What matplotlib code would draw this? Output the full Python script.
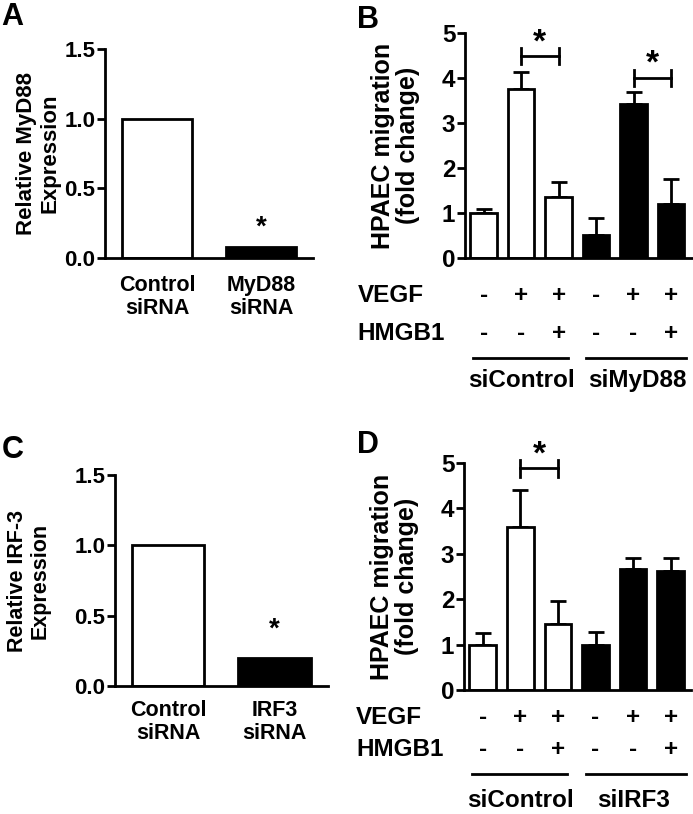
import matplotlib
matplotlib.use("Agg")
import matplotlib.pyplot as plt
import matplotlib.transforms as mtransforms
import numpy as np

plt.rcParams["font.family"] = ["Liberation Sans", "DejaVu Sans"]
plt.rcParams["font.weight"] = "bold"

# Panel A / C: knockdown efficiency
kd_groups = ["Control\nsiRNA", "MyD88\nsiRNA"]
kd_myd88 = [1.0, 0.08]
kd_groups_c = ["Control\nsiRNA", "IRF3\nsiRNA"]
kd_irf3 = [1.0, 0.2]

# Panel B / D: migration (fold change), mean and upper SEM
mig_b = [1.0, 3.75, 1.35, 0.52, 3.43, 1.2]
err_b = [0.1, 0.38, 0.35, 0.37, 0.25, 0.55]
mig_d = [1.0, 3.58, 1.45, 1.0, 2.66, 2.63]
err_d = [0.26, 0.83, 0.51, 0.27, 0.24, 0.27]
bar_fill = ["white", "white", "white", "black", "black", "black"]
vegf_row = ["-", "+", "+", "-", "+", "+"]
hmgb1_row = ["-", "-", "+", "-", "-", "+"]
groups_b = ["siControl", "siMyD88"]
groups_d = ["siControl", "siIRF3"]

# significance brackets: (left bar, right bar, height)
sig_b = [(1, 2, 4.48), (4, 5, 4.0)]
sig_d = [(1, 2, 4.88)]

LW = 2.0
ROW_FS = 17.5

fig = plt.figure(figsize=(6.93, 8.14), dpi=100)


def style_axes(ax, tick_fs):
    for side in ("top", "right"):
        ax.spines[side].set_visible(False)
    for side in ("left", "bottom"):
        ax.spines[side].set_linewidth(LW)
    ax.tick_params(axis="y", direction="out", length=6, width=LW, labelsize=tick_fs, pad=1)
    for lab in ax.get_yticklabels():
        lab.set_fontweight("bold")


def kd_panel(rect, names, values, ylabel, ylabel_fs, label_x, star_y, letter, letter_xy, pad):
    ax = fig.add_axes(rect)
    x = np.arange(len(values))
    ax.bar(x, values, width=0.68, color=["white", "black"], edgecolor="black", linewidth=LW)
    ax.set_xlim(-0.5, 1.5)
    ax.set_ylim(0, 1.5)
    ax.set_yticks([0, 0.5, 1.0, 1.5])
    ax.set_yticklabels(["0.0", "0.5", "1.0", "1.5"])
    ax.set_xticks(x)
    ax.set_xticklabels(names, fontsize=15.5, fontweight="bold", linespacing=1.15)
    ax.tick_params(axis="x", length=0, pad=pad)
    style_axes(ax, 16)
    ax.set_ylabel(ylabel, fontsize=ylabel_fs, fontweight="bold", linespacing=1.1)
    ax.yaxis.set_label_coords(label_x, 0.5)
    ax.text(1, star_y, "*", ha="center", va="center", fontsize=20, fontweight="bold")
    fig.text(letter_xy[0], letter_xy[1], letter, fontsize=22, fontweight="bold", va="top")
    return ax


def mig_panel(rect, values, errs, groups, sigs, row_y, letter, letter_xy, group_x):
    ax = fig.add_axes(rect)
    x = np.arange(len(values))
    ax.bar(x, values, width=0.71, color=bar_fill, edgecolor="black", linewidth=LW, zorder=2)
    ax.errorbar(x, values, yerr=[np.zeros(len(errs)), errs], fmt="none", ecolor="black",
                elinewidth=LW, capsize=6, capthick=LW, zorder=1)
    ax.set_xlim(-0.5, 5.55)
    ax.set_ylim(0, 5)
    ax.set_yticks(range(6))
    ax.set_xticks([])
    style_axes(ax, 17.5)
    ax.set_ylabel("HPAEC migration\n(fold change)", fontsize=18, fontweight="bold", linespacing=1.05)
    ax.yaxis.set_label_coords(-0.2, 0.5)

    for a, b, h in sigs:
        ax.plot([a, b], [h, h], color="black", lw=LW, clip_on=False)
        for xe in (a, b):
            ax.plot([xe, xe], [h - 0.18, h + 0.18], color="black", lw=LW, clip_on=False)
        ax.text((a + b) / 2, h + 0.3, "*", ha="center", va="center", fontsize=24,
                fontweight="bold", clip_on=False)

    trans = mtransforms.blended_transform_factory(ax.transData, ax.transAxes)
    vy, hy, ly, gy = row_y
    ax.text(-0.474, vy, "VEGF", transform=ax.transAxes, ha="left", va="center",
            fontsize=ROW_FS, fontweight="bold")
    ax.text(-0.474, hy, "HMGB1", transform=ax.transAxes, ha="left", va="center",
            fontsize=ROW_FS, fontweight="bold")
    for xi, v, h in zip(x, vegf_row, hmgb1_row):
        ax.text(xi, vy, v, transform=trans, ha="center", va="center", fontsize=ROW_FS, fontweight="bold")
        ax.text(xi, hy, h, transform=trans, ha="center", va="center", fontsize=ROW_FS, fontweight="bold")
    for (x0, x1), g, gx in zip([(-0.28, 2.24), (2.74, 5.4)], groups, group_x):
        ax.plot([x0, x1], [ly, ly], color="black", lw=LW, transform=trans, clip_on=False)
        ax.text(gx, gy, g, transform=trans, ha="center", va="center", fontsize=ROW_FS, fontweight="bold")
    fig.text(letter_xy[0], letter_xy[1], letter, fontsize=22, fontweight="bold", va="top")
    return ax


kd_panel([0.1515, 0.683, 0.300, 0.257], kd_groups, kd_myd88, "Relative MyD88\nExpression", 16,
         -0.216, 0.22, "A", (0.002, 0.998), 12)
kd_panel([0.166, 0.157, 0.307, 0.2595], kd_groups_c, kd_irf3, "Relative IRF-3\nExpression", 15.5,
         -0.305, 0.40, "C", (0.002, 0.466), 10)
mig_panel([0.671, 0.683, 0.327, 0.2765], mig_b, err_b, groups_b, sig_b,
          (-0.168, -0.337, -0.444, -0.546), "B", (0.515, 0.994), (1.0, 4.1))
mig_panel([0.6696, 0.1523, 0.328, 0.2789], mig_d, err_d, groups_d, sig_d,
          (-0.123, -0.26, -0.37, -0.487), "D", (0.515, 0.472), (1.0, 4.0))

fig.savefig("out.png", dpi=100, facecolor="white")
